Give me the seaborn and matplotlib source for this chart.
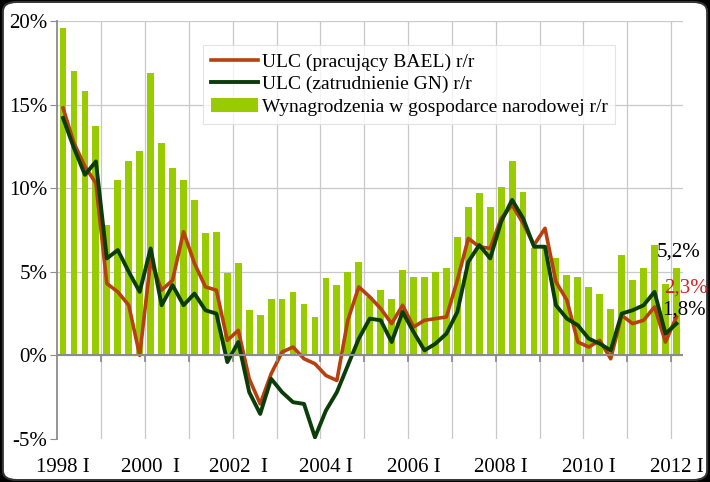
import matplotlib
matplotlib.use("Agg")
import matplotlib.pyplot as plt
import seaborn as sns
import numpy as np
import pandas as pd
from matplotlib.patches import FancyBboxPatch

years = list(range(1998, 2013))
quarters = [f"{y} {q}" for y in years for q in ["I", "II", "III", "IV"]][:57]

wages = [19.6, 17.0, 15.8, 13.7, 7.8, 10.5, 11.6, 12.2, 16.9, 12.7, 11.2, 10.5, 9.3, 7.3, 7.4, 4.9,
         5.5, 2.7, 2.4, 3.4, 3.4, 3.8, 3.1, 2.3, 4.6, 4.2, 5.0, 5.6, 3.5, 3.9, 3.4, 5.1,
         4.7, 4.7, 5.0, 5.2, 7.1, 8.9, 9.7, 8.9, 10.1, 11.6, 9.8, 6.4, 6.6, 5.8, 4.8, 4.7,
         4.1, 3.7, 2.8, 6.0, 4.5, 5.2, 6.6, 4.3, 5.2]
ulc_bael = [14.8, 12.7, 11.3, 10.3, 4.3, 3.8, 3.0, 0.0, 5.7, 3.9, 4.5, 7.4, 5.5, 4.1, 3.9, 0.9,
            1.5, -1.4, -2.9, -1.1, 0.2, 0.5, -0.2, -0.5, -1.2, -1.5, 2.1, 4.1, 3.5, 2.8, 1.9, 3.0,
            1.7, 2.1, 2.2, 2.3, 4.5, 7.0, 6.5, 6.4, 8.2, 9.0, 7.9, 6.6, 7.6, 4.4, 3.3, 0.8,
            0.5, 0.9, -0.2, 2.4, 1.9, 2.1, 2.9, 0.8, 2.3]
ulc_gn = [14.2, 12.4, 10.8, 11.6, 5.8, 6.3, 5.0, 3.8, 6.4, 3.0, 4.2, 3.0, 3.7, 2.7, 2.5, -0.4,
          0.8, -2.2, -3.5, -1.4, -2.2, -2.8, -2.9, -4.9, -3.3, -2.2, -0.6, 1.0, 2.2, 2.1, 0.8, 2.6,
          1.4, 0.3, 0.7, 1.3, 2.6, 5.6, 6.6, 5.8, 8.0, 9.3, 8.2, 6.5, 6.5, 3.0, 2.2, 1.8,
          1.0, 0.7, 0.3, 2.5, 2.7, 3.0, 3.8, 1.3, 1.9]
tick_labels = ["1998 I", "2000  I", "2002  I", "2004 I", "2006 I", "2008 I", "2010 I", "2012 I"]
yticks = [-5, 0, 5, 10, 15, 20]

df = pd.DataFrame({"q": quarters, "pos": np.arange(len(quarters)), "w": wages,
                   "bael": ulc_bael, "gn": ulc_gn})

serif = "Liberation Serif"
fig = plt.figure(figsize=(7.10, 4.82), dpi=100, facecolor="black")
bg = FancyBboxPatch((0.004, 0.004), 0.992, 0.992, boxstyle="round,pad=0,rounding_size=0.02",
                    transform=fig.transFigure, facecolor="white", edgecolor="#333333", lw=1.5,
                    zorder=-10)
fig.patches.append(bg)
ax = fig.add_axes([57/710, 1-439/482, 626/710, 418/482])
ax.set_zorder(1)
ax.set_facecolor("white")

n = len(quarters)
for k in range(4, n, 4):
    ax.axvline(k - 0.5, color="#c8c8c8", lw=0.9, zorder=0)
for v in yticks[1:]:
    ax.axhline(v, color="#c8c8c8", lw=0.9, zorder=0)

sns.barplot(data=df, x="pos", y="w", color="#99CC00", width=0.62, saturation=1, ax=ax,
            native_scale=True, label="Wynagrodzenia w gospodarce narodowej r/r", zorder=2)
sns.lineplot(data=df, x="pos", y="bael", color="#B8400E", lw=2.6, ax=ax, zorder=3,
             label="ULC (pracujący BAEL) r/r")
sns.lineplot(data=df, x="pos", y="gn", color="#0B3D0B", lw=2.8, ax=ax, zorder=4,
             label="ULC (zatrudnienie GN) r/r")

ax.axhline(0, color="#8c8c8c", lw=1.5, zorder=5)
for k in range(4, n, 4):
    ax.plot([k - 0.5, k - 0.5], [0, -0.35], color="#8c8c8c", lw=1.3, zorder=5)

ax.set_xlim(-0.55, n - 0.4)
ax.set_ylim(-5, 20)
ax.set_yticks(yticks)
ax.set_yticklabels([f"{v}%" for v in yticks], fontfamily=serif, fontsize=15)
ax.set_xticks(np.arange(0, n, 8))
ax.set_xticklabels(tick_labels, fontfamily=serif, fontsize=15)
ax.tick_params(axis="x", length=0, pad=14)
ax.tick_params(axis="y", length=5, color="#8c8c8c", pad=2)
ax.set_xlabel("")
ax.set_ylabel("")
for s in ["top", "right", "bottom"]:
    ax.spines[s].set_visible(False)
ax.spines["left"].set_color("#8c8c8c")
ax.spines["left"].set_linewidth(1.3)

leg = ax.legend(loc="upper left", bbox_to_anchor=(0.218, 0.965), prop={"family": serif, "size": 14},
                frameon=True, fancybox=False, edgecolor="#dddddd", handlelength=2.4,
                handletextpad=0.2, borderpad=0.4, labelspacing=0.25)
leg.get_frame().set_linewidth(0.8)

ax.text(n - 2.8, wages[-1] + 1.0, "5,2%", fontfamily=serif, fontsize=15, color="black",
        ha="left", va="center", clip_on=False)
ax.text(n - 2.1, ulc_bael[-1] + 1.7, "2,3%", fontfamily=serif, fontsize=15, color="#CC2222",
        ha="left", va="center", clip_on=False)
ax.text(n - 2.3, ulc_gn[-1] + 0.8, "1,8%", fontfamily=serif, fontsize=15, color="black",
        ha="left", va="center", clip_on=False)

fig.savefig("out.png", dpi=100, facecolor=fig.get_facecolor())
